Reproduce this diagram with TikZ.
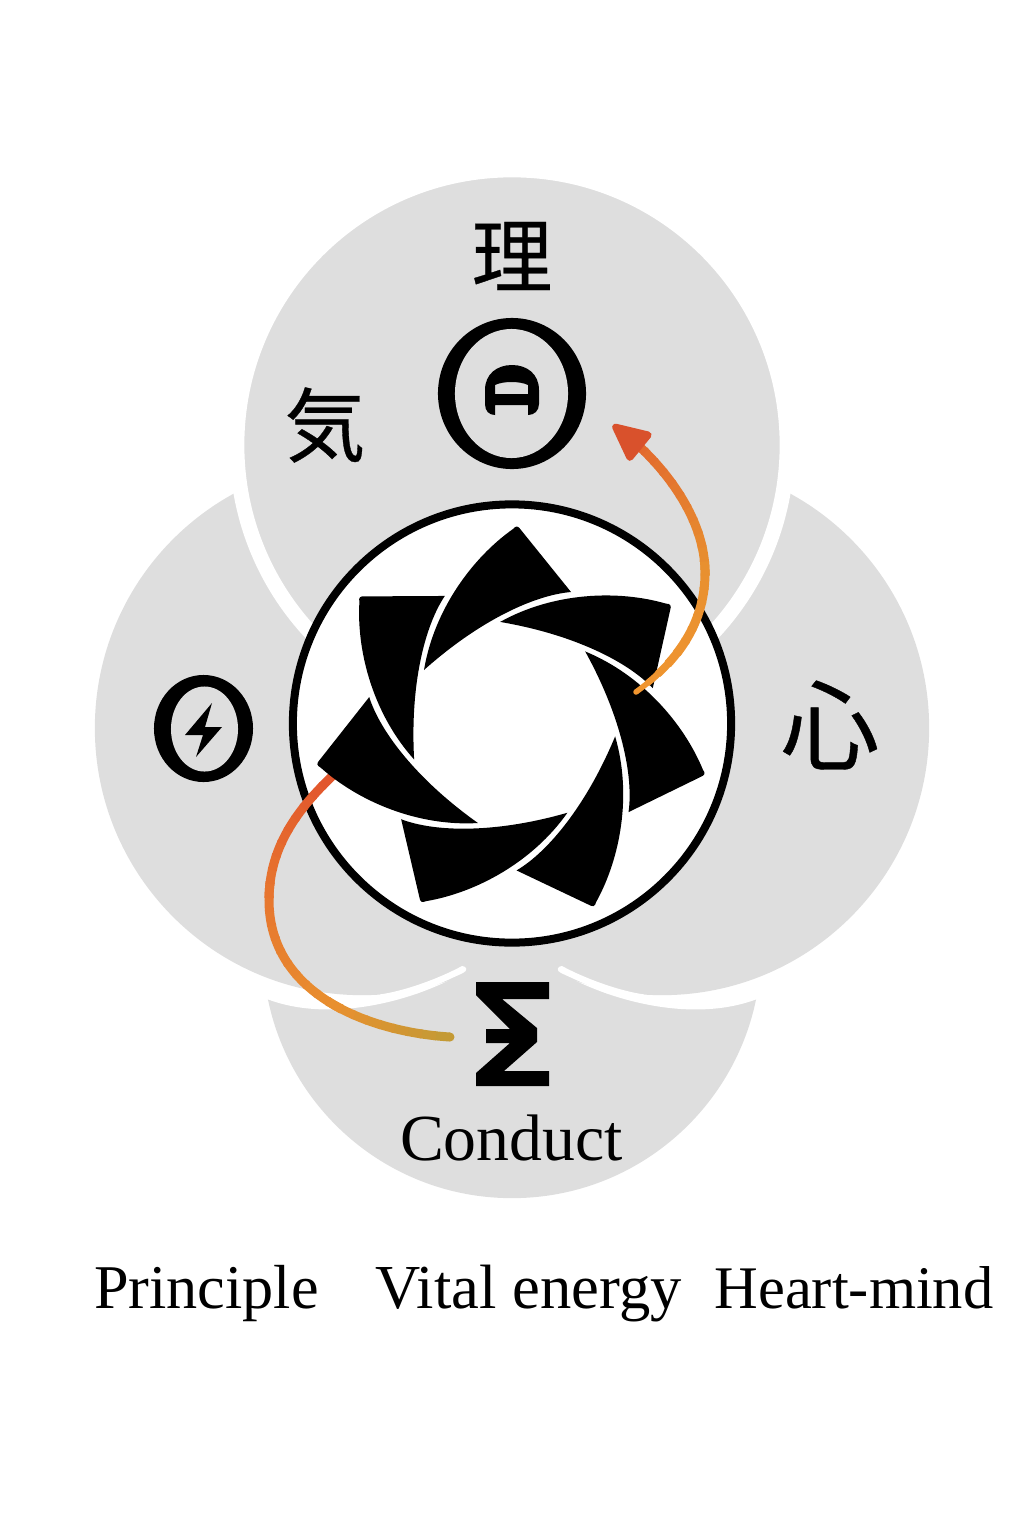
\documentclass[tikz,border=0pt]{standalone}
\usepackage{fontspec}
\setmainfont{Liberation Serif}
\newfontfamily\cjk[FakeBold=0.4]{Noto Sans CJK JP}
\usepackage{xcolor}
\usepackage{tikz}
\usetikzlibrary{positioning, arrows.meta}
\usetikzlibrary{shapes.geometric}
\definecolor{nLobe}{HTML}{DEDEDE}
\definecolor{nInk}{HTML}{000000}
\definecolor{nRed}{HTML}{D9512C}
\definecolor{nScarlet}{HTML}{E0482B}
\definecolor{nOrange}{HTML}{E7752F}
\definecolor{nAmber}{HTML}{E8902F}
\definecolor{nGold}{HTML}{F0952F}
\definecolor{nRust}{HTML}{E26A2E}
\definecolor{nOchre}{HTML}{C49A35}
\tikzset{
  lobe/.style={circle, fill=nLobe, inner sep=0pt, minimum size=#1},
  ovalInk/.style={ellipse, fill=nInk, inner sep=0pt},
  ovalLobe/.style={ellipse, fill=nLobe, inner sep=0pt},
  blade/.style={fill=nInk},
  kanji/.style={font=\cjk\fontsize{#1}{#1}\selectfont, inner sep=0pt, text=nInk},
  caption/.style={font=\fontsize{#1}{#1}\selectfont, anchor=base, inner sep=0pt, text=nInk}
}
\begin{document}
\begin{tikzpicture}[x=0.01cm, y=-0.01cm, >=Stealth]
  \useasboundingbox (0,0) rectangle (1024,1536);
  \node[lobe=4.98cm] (lobeConduct) at (512,949) {};
  \foreach \flip/\off in {1/0,-1/1024}
    \fill[white, shift={(\off,0)}, xscale=\flip] (240,950) -- (440,950) -- (463,973)
      .. controls (410,1003) and (325,1024) .. (262,997) -- cycle;
  \node[lobe=5.34cm] (lobeEnergy) at (362,728) {};
  \node[lobe=5.34cm] (lobeHeart) at (662,728) {};
  \foreach \flip/\off in {1/0,-1/1024}
    \fill[white, shift={(\off,0)}, xscale=\flip] (380,994.4) .. controls (405,991) and (440,978) .. (462,966)
      .. controls (467,966) and (468,971) .. (463,973) -- (440,983.5) -- (418,993) -- (380,1003) -- cycle;
  \node[lobe=5.5cm, draw=white, line width=0.15cm] (lobePrinciple) at (512,445) {};
  \node[circle, draw=nInk, fill=white, line width=0.08cm, minimum size=4.38cm, inner sep=0pt] (disc) at (512,723.5) {};

  \coordinate (tailConduct) at (450,1037);
  \coordinate (bendConduct) at (269,900);
  \coordinate (endConduct) at (342,767);
  \fill[nOchre] (tailConduct) circle (4.5);
  \foreach \kA/\kB/\cA/\cB in {0/8/nOchre/nAmber,8/18/nAmber/nOrange,18/31/nOrange/nScarlet}
    \foreach \k in {\kA,...,\kB} {
      \pgfmathsetmacro\mixPct{100*(\k-\kA)/(\kB-\kA)}
      \pgfmathsetmacro\gapLen{4*\k}
      \draw[line width=0.09cm, draw=\cB!\mixPct!\cA, dash pattern=on 0pt off \gapLen pt on 4.6pt off 999pt]
        (tailConduct) .. controls (370,1032) and (269,995) .. (bendConduct) .. controls (269,845) and (300,805) .. (endConduct);
    }

  \foreach \i in {0,...,6}
    \path[blade, shift={(512,725)}, rotate=-360/7*\i] (-88,-55) .. controls (-78,-115) and (-40,-167) .. (1,-196)
      .. controls (4,-199.5) and (6,-199.5) .. (9,-195) -- (59,-133)
      .. controls (23,-130) and (-32,-105) .. (-88,-55) -- cycle;

  \coordinate (tailPrinciple) at (636,692);
  \coordinate (bendPrinciple) at (705,570);
  \coordinate (neckPrinciple) at (640,447);
  \coordinate (tipPrinciple) at (613,425);
  \fill[nGold] (tailPrinciple) circle (2.75);
  \foreach \kA/\kB/\cA/\cB in {0/10/nGold/nAmber,10/20/nAmber/nRust}
    \foreach \k in {\kA,...,\kB} {
      \pgfmathsetmacro\mixPct{100*(\k-\kA)/(\kB-\kA)}
      \pgfmathsetmacro\gapLen{4*\k}
      \pgfmathsetmacro\strokeW{min(9,5.5+\k)}
      \draw[line width=\strokeW*0.01cm, draw=\cB!\mixPct!\cA, dash pattern=on 0pt off \gapLen pt on 4.6pt off 999pt]
        (tailPrinciple) .. controls (680,660) and (706,620) .. (bendPrinciple) .. controls (704,525) and (675,480) .. (neckPrinciple);
    }
  \draw[-{Triangle[length=0.42cm, width=0.38cm, round]}, line width=0.07cm, nRed] (neckPrinciple) -- (tipPrinciple);

  \node[ovalInk, minimum width=1.48cm, minimum height=1.51cm] (ringTheta) at (512,393.5) {};
  \node[ovalLobe, minimum width=1.13cm, minimum height=1.29cm] (holeTheta) at (511.5,393.5) {};
  \fill[nInk, even odd rule] (495,415) -- (495,405) -- (528,405) -- (528,415) .. controls (534,415) and (539,411) .. (539,404)
    -- (539,390) .. controls (539,374) and (527,365) .. (512,365) .. controls (497,365) and (485,374) .. (485,390)
    -- (485,404) .. controls (485,411) and (489,415) .. (495,415) -- cycle
    (495,394) -- (528,394) -- (528,385) .. controls (520,381) and (503,381) .. (495,385) -- cycle;

  \node[ovalInk, minimum width=0.99cm, minimum height=1.07cm] (ringBolt) at (203.5,728.5) {};
  \node[ovalLobe, minimum width=0.67cm, minimum height=0.85cm] (holeBolt) at (204.5,729) {};
  \fill[nInk] (212,703) -- (185,735) -- (203,735) -- (196,757) -- (222,727) -- (205,727) -- cycle;

  \fill[nInk] (476,982) -- (549,982) -- (549,999) -- (502,999) -- (537,1028) -- (537,1042) -- (504,1071) -- (549,1071)
    -- (549,1086) -- (476,1086) -- (476,1073) -- (510,1043) -- (486,1043) -- (486,1029) -- (510,1029) -- (476,995) -- cycle;

  \node[kanji=23] (kanjiPrinciple) at (512,256) {理};
  \node[kanji=23] (kanjiEnergy) at (325,425) {気};
  \node[kanji=28] (kanjiHeart) at (830,725) {心};

  \node[caption=18.7] (labelConduct) at (511.5,1160) {Conduct};
  \node[caption=17.7] (labelPrinciple) at (206.5,1308) {Principle};
  \node[caption=17.8] (labelEnergy) at (528.5,1308) {Vital energy};
  \node[caption=17.2] (labelHeart) at (854,1308) {Heart-mind};
\end{tikzpicture}
\end{document}
